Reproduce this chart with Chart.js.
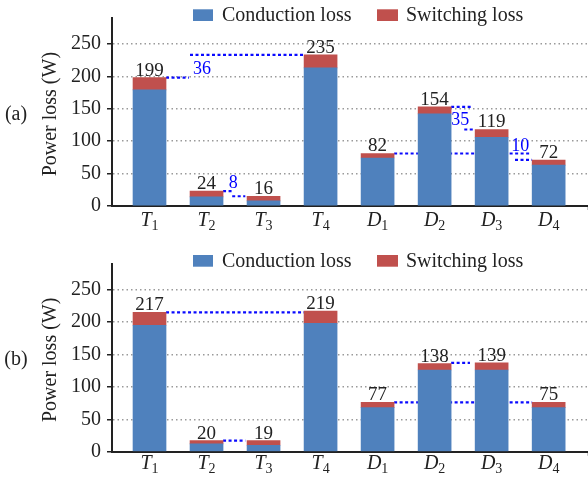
<!DOCTYPE html>
<html>
<head>
<meta charset="utf-8">
<script src="https://cdn.jsdelivr.net/npm/chart.js@4.4.0/dist/chart.umd.min.js"></script>
<style>
body{margin:0;background:#fff;}
.panel{position:absolute;left:0;width:588px;height:240px;}
canvas{display:block;}
</style>
</head>
<body>
<div class="panel" style="top:0"><canvas id="grafa" width="588" height="240"></canvas></div>
<div class="panel" style="top:240px"><canvas id="grafb" width="588" height="240"></canvas></div>
<script>
// categories (letter + subscript)
var categories = ['T1','T2','T3','T4','D1','D2','D3','D4'];
var yTicks = [0,25,50,75,100,125,150,175,200,225,250];
var yMax = 289.5;

// (a)
var conductionA = [179,14,8,213,74,142,106,63];
var switchingA  = [19,9,7,20,7,11,12,8];
var totalA      = [199,24,16,235,82,154,119,72];
// dashed comparison lines: [x start, x end, level]
var linesA = [[0.29,0.69,198],[0.71,2.73,233],[1.29,1.46,23],[1.45,1.68,15],
              [4.29,6.67,81],[5.29,5.67,153],[5.52,5.69,118],[6.41,6.71,71]];
var diffA    = ['36','8','35','10'];
var diffPosA = [[0.92,203],[1.47,27.5],[5.45,125],[6.5,85]];

// (b)
var conductionB = [195,12,10,198,68,126,126,68];
var switchingB  = [20,5,7,19,8,10,11,8];
var totalB      = [217,20,19,219,77,138,139,75];
var linesB = [[0.29,2.71,215],[1.29,1.68,17],[5.29,5.62,137],[4.29,6.71,76]];
var diffB    = [];
var diffPosB = [];

var serif = '"Liberation Serif", "Times New Roman", serif';
var ink = '#222';

var textPlugin = {
    id: 'texts',
    afterDatasetsDraw: function(chart){
        var o = chart.options.plugins.texts;
        var ctx = chart.ctx, xs = chart.scales.x, ys = chart.scales.y, area = chart.chartArea;
        ctx.save();
        // totals on top of the bars
        ctx.fillStyle = ink;
        ctx.textAlign = 'center';
        ctx.textBaseline = 'alphabetic';
        ctx.font = '19px ' + serif;
        for (var i in o.totals){
            var top = o.cond[i] + o.sw[i];
            ctx.fillText(String(o.totals[i]), xs.getPixelForValue(Number(i)), ys.getPixelForValue(top) - 2);
        }
        // differences
        ctx.fillStyle = '#0000ff';
        ctx.font = '18px ' + serif;
        for (var j in o.diff){
            ctx.fillText(o.diff[j], xs.getPixelForValue(o.diffPos[j][0]), ys.getPixelForValue(o.diffPos[j][1]));
        }
        // category labels with subscript
        ctx.fillStyle = ink;
        ctx.textAlign = 'left';
        for (var k = 0; k < categories.length; k++){
            var letter = categories[k].charAt(0), sub = categories[k].slice(1);
            ctx.font = 'italic 20px ' + serif;
            var w1 = ctx.measureText(letter).width;
            ctx.font = '14px ' + serif;
            var w2 = ctx.measureText(sub).width;
            var x0 = xs.getPixelForValue(k) - (w1 + w2) / 2;
            var yb = area.bottom + o.catGap;
            ctx.font = 'italic 20px ' + serif;
            ctx.fillText(letter, x0, yb);
            ctx.font = '14px ' + serif;
            ctx.fillText(sub, x0 + w1, yb + 4);
        }
        // legend
        var ly = area.top + 2.7;
        ctx.font = '20px ' + serif;
        ctx.fillStyle = '#4f81bd';
        ctx.fillRect(193, ly - 11.7, 20, 11.7);
        ctx.fillStyle = '#c0504d';
        ctx.fillRect(377, ly - 11.7, 21, 11.7);
        ctx.fillStyle = ink;
        ctx.fillText('Conduction loss', 222, ly);
        ctx.fillText('Switching loss', 406, ly);
        // panel label
        var mid = (area.top + area.bottom) / 2;
        ctx.textAlign = 'center';
        ctx.fillText(o.panel, 16, mid + 7.5);
        // y title
        ctx.translate(51, mid + 2);
        ctx.rotate(-Math.PI / 2);
        ctx.textBaseline = 'middle';
        ctx.fillText('Power loss (W)', 0, 0);
        ctx.restore();
    }
};

function makeChart(id, cond, sw, totals, lines, diff, diffPos, panel, padTop, catGap){
    var datasets = [
        {type:'bar', label:'Conduction loss', data: cond.map(function(v,i){return {x:i,y:v};}),
         backgroundColor:'#4f81bd', barThickness:33, stack:'s', order:1},
        {type:'bar', label:'Switching loss', data: sw.map(function(v,i){return {x:i,y:v};}),
         backgroundColor:'#c0504d', barThickness:33, stack:'s', order:1}
    ];
    for (var i in lines){
        datasets.push({type:'line', data:[{x:lines[i][0],y:lines[i][2]},{x:lines[i][1],y:lines[i][2]}],
            yAxisID:'yl', borderColor:'#0a0aff', borderWidth:2.2, borderDash:[3,2.5],
            pointRadius:0, fill:false, order:5});
    }
    var areaBottom = 206 + (padTop - 18.3);
    return new Chart(document.getElementById(id), {
        type:'bar',
        data:{datasets: datasets},
        plugins:[textPlugin],
        options:{
            responsive:false, animation:false, devicePixelRatio:1, events:[],
            layout:{padding:{top:padTop, left:0, right:0, bottom:0}},
            plugins:{
                legend:{display:false}, tooltip:{enabled:false},
                texts:{cond:cond, sw:sw, totals:totals, diff:diff, diffPos:diffPos, panel:panel, catGap:catGap}
            },
            scales:{
                x:{type:'linear', offset:false, min:-0.658, max:7.69,
                   afterFit:function(s){ s.height = 240 - areaBottom; },
                   afterBuildTicks:function(s){ s.ticks = [{value:3.5}]; },
                   ticks:{display:false},
                   grid:{drawOnChartArea:false, drawTicks:true, tickLength:4, tickWidth:1.5, tickColor:ink, color:ink},
                   border:{color:ink, width:2}},
                y:{stacked:true, min:0, max:yMax,
                   afterFit:function(s){ s.width = 112; },
                   afterBuildTicks:function(s){ s.ticks = yTicks.concat([yMax]).map(function(v){return {value:v};}); },
                   ticks:{callback:function(v){ return v % 50 === 0 ? v : ''; }, font:{family:serif, size:20}, color:ink, padding:6},
                   grid:{color:function(c){ return (c.tick && c.tick.value % 50 === 0 && c.tick.value > 0) ? '#9a9a9a' : 'rgba(0,0,0,0)'; },
                         lineWidth:1.5, tickLength:5, tickWidth:1.5, tickColor:ink},
                   border:{color:ink, width:2, dash:[1.5,3]}},
                yl:{display:false, min:0, max:yMax}
            }
        }
    });
}

makeChart('grafa', conductionA, switchingA, totalA, linesA, diffA, diffPosA, '(a)', 18.3, 19.7);
makeChart('grafb', conductionB, switchingB, totalB, linesB, diffB, diffPosB, '(b)', 24, 17.5);
</script>
</body>
</html>
